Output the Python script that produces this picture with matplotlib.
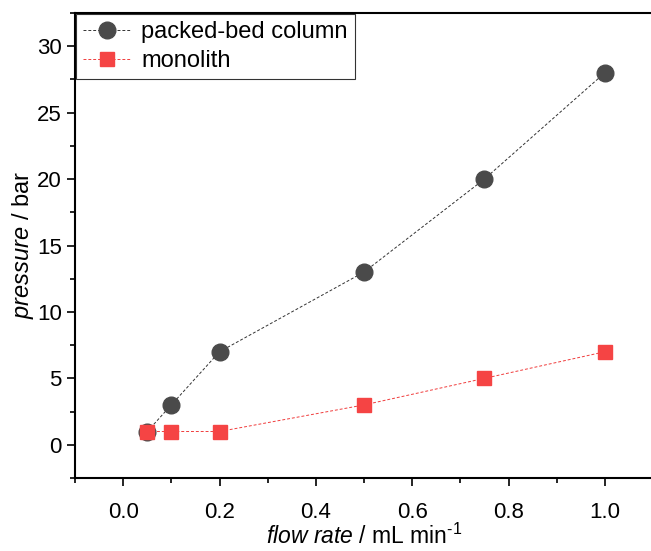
import matplotlib
matplotlib.use("Agg")
import matplotlib.pyplot as plt
from matplotlib.ticker import MultipleLocator

flow_rate = [0.05, 0.1, 0.2, 0.5, 0.75, 1.0]
packed_bed = [1, 3, 7, 13, 20, 28]
monolith = [1, 1, 1, 3, 5, 7]

plt.rcParams['font.family'] = 'Liberation Sans'
plt.rcParams['mathtext.fontset'] = 'custom'
plt.rcParams['mathtext.rm'] = 'Liberation Sans'
plt.rcParams['mathtext.it'] = 'Liberation Sans:italic'

fig = plt.figure(figsize=(6.51, 5.51), dpi=100)
ax = fig.add_axes([75 / 651, 73 / 551, 578 / 651, 465 / 551])

ax.plot(flow_rate, packed_bed, color='#333333', lw=0.7, ls=(0, (3, 2)),
        marker='o', ms=12, mfc='#4a4a4a', mec='#4a4a4a', label='packed-bed column')
ax.plot(flow_rate, monolith, color='#f03c3c', lw=0.7, ls=(0, (3, 2)),
        marker='s', ms=10.5, mfc='#f54444', mec='#f54444', label='monolith')

ax.set_xlim(-0.1, 1.1)
ax.set_ylim(-2.5, 32.5)
ax.xaxis.set_major_locator(MultipleLocator(0.2))
ax.xaxis.set_minor_locator(MultipleLocator(0.1))
ax.yaxis.set_major_locator(MultipleLocator(5))
ax.yaxis.set_minor_locator(MultipleLocator(2.5))
ax.xaxis.set_major_formatter(plt.FormatStrFormatter('%.1f'))

for s in ax.spines.values():
    s.set_linewidth(1.5)
ax.tick_params(which='major', direction='out', length=6, width=1.2, labelsize=16)
ax.tick_params(axis='x', which='major', pad=11)
ax.tick_params(which='minor', direction='out', length=3.5, width=1.2)

ax.set_xlabel(r'$\it{flow\ rate}$ / mL min$^{\text{-}1}$', fontsize=16.5, labelpad=1)
ax.set_ylabel(r'$\it{pressure}$ / bar', fontsize=17, labelpad=1)

leg = ax.legend(loc='upper left', fontsize=17, frameon=True, fancybox=False,
                borderaxespad=0.05, handlelength=2.0, handletextpad=0.45,
                labelspacing=0.3, borderpad=0.3)
leg.get_frame().set_edgecolor('black')
leg.get_frame().set_linewidth(0.8)

fig.savefig('out.png', dpi=100)
